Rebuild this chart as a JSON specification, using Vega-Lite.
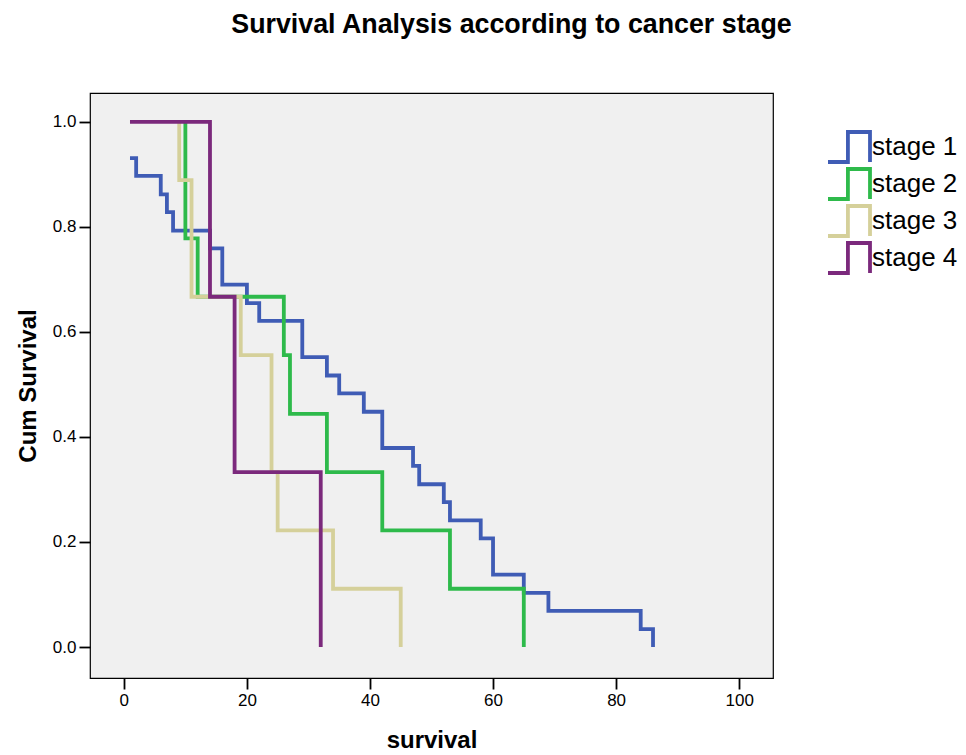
{
  "$schema": "https://vega.github.io/schema/vega-lite/v6.json",
  "autosize": "none",
  "width": 683,
  "height": 585,
  "padding": {"left": 90, "top": 93, "right": 193, "bottom": 77},
  "background": "white",
  "title": {
    "text": "Survival Analysis according to cancer stage",
    "font": "Liberation Sans",
    "fontSize": 26.8,
    "fontWeight": "bold",
    "color": "black",
    "anchor": "middle",
    "dx": 80,
    "offset": 54
  },
  "config": {
    "view": {"fill": "#F0F0F0", "stroke": "black", "strokeWidth": 1.2},
    "axis": {
      "grid": false,
      "domain": false,
      "tickColor": "black",
      "tickSize": 11,
      "tickWidth": 1.8,
      "labelFont": "Liberation Sans",
      "labelFontSize": 17,
      "labelColor": "black",
      "titleFont": "Liberation Sans",
      "titleFontSize": 24,
      "titleFontWeight": "bold",
      "titleColor": "black"
    }
  },
  "data": {
    "values": [
      {"stage": "stage 1", "i": 0, "t": 1, "s": 0.931},
      {"stage": "stage 1", "i": 1, "t": 2, "s": 0.897},
      {"stage": "stage 1", "i": 2, "t": 6, "s": 0.862},
      {"stage": "stage 1", "i": 3, "t": 7, "s": 0.828},
      {"stage": "stage 1", "i": 4, "t": 8, "s": 0.793},
      {"stage": "stage 1", "i": 5, "t": 14, "s": 0.759},
      {"stage": "stage 1", "i": 6, "t": 16, "s": 0.69},
      {"stage": "stage 1", "i": 7, "t": 20, "s": 0.655},
      {"stage": "stage 1", "i": 8, "t": 22, "s": 0.621},
      {"stage": "stage 1", "i": 9, "t": 29, "s": 0.552},
      {"stage": "stage 1", "i": 10, "t": 33, "s": 0.517},
      {"stage": "stage 1", "i": 11, "t": 35, "s": 0.483},
      {"stage": "stage 1", "i": 12, "t": 39, "s": 0.448},
      {"stage": "stage 1", "i": 13, "t": 42, "s": 0.379},
      {"stage": "stage 1", "i": 14, "t": 47, "s": 0.345},
      {"stage": "stage 1", "i": 15, "t": 48, "s": 0.31},
      {"stage": "stage 1", "i": 16, "t": 52, "s": 0.276},
      {"stage": "stage 1", "i": 17, "t": 53, "s": 0.241},
      {"stage": "stage 1", "i": 18, "t": 58, "s": 0.207},
      {"stage": "stage 1", "i": 19, "t": 60, "s": 0.138},
      {"stage": "stage 1", "i": 20, "t": 65, "s": 0.103},
      {"stage": "stage 1", "i": 21, "t": 69, "s": 0.069},
      {"stage": "stage 1", "i": 22, "t": 84, "s": 0.034},
      {"stage": "stage 1", "i": 23, "t": 86, "s": 0.0},
      {"stage": "stage 2", "i": 0, "t": 10, "s": 1.0},
      {"stage": "stage 2", "i": 1, "t": 10, "s": 0.778},
      {"stage": "stage 2", "i": 2, "t": 12, "s": 0.667},
      {"stage": "stage 2", "i": 3, "t": 26, "s": 0.556},
      {"stage": "stage 2", "i": 4, "t": 27, "s": 0.444},
      {"stage": "stage 2", "i": 5, "t": 33, "s": 0.333},
      {"stage": "stage 2", "i": 6, "t": 42, "s": 0.222},
      {"stage": "stage 2", "i": 7, "t": 53, "s": 0.111},
      {"stage": "stage 2", "i": 8, "t": 65, "s": 0.0},
      {"stage": "stage 3", "i": 0, "t": 9, "s": 1.0},
      {"stage": "stage 3", "i": 1, "t": 9, "s": 0.889},
      {"stage": "stage 3", "i": 2, "t": 11, "s": 0.667},
      {"stage": "stage 3", "i": 3, "t": 19, "s": 0.556},
      {"stage": "stage 3", "i": 4, "t": 24, "s": 0.333},
      {"stage": "stage 3", "i": 5, "t": 25, "s": 0.222},
      {"stage": "stage 3", "i": 6, "t": 34, "s": 0.111},
      {"stage": "stage 3", "i": 7, "t": 45, "s": 0.0},
      {"stage": "stage 4", "i": 0, "t": 1, "s": 1.0},
      {"stage": "stage 4", "i": 1, "t": 14, "s": 0.667},
      {"stage": "stage 4", "i": 2, "t": 18, "s": 0.333},
      {"stage": "stage 4", "i": 3, "t": 32, "s": 0.0}
    ]
  },
  "mark": {"type": "line", "interpolate": "step-after", "strokeWidth": 3.8, "strokeCap": "butt", "strokeJoin": "miter"},
  "encoding": {
    "x": {
      "field": "t",
      "type": "quantitative",
      "title": "survival",
      "scale": {"domain": [-5.5, 105.5], "nice": false, "zero": false},
      "axis": {"values": [0, 20, 40, 60, 80, 100], "titlePadding": 20, "labelPadding": 3}
    },
    "y": {
      "field": "s",
      "type": "quantitative",
      "title": "Cum Survival",
      "scale": {"domain": [-0.059, 1.055], "nice": false, "zero": false},
      "axis": {"values": [0, 0.2, 0.4, 0.6, 0.8, 1.0], "format": ".1f", "titlePadding": 12, "labelPadding": 3}
    },
    "order": {"field": "i", "type": "quantitative"},
    "color": {
      "field": "stage",
      "type": "nominal",
      "title": null,
      "scale": {
        "domain": ["stage 1", "stage 2", "stage 3", "stage 4"],
        "range": ["#3F5CB5", "#2EBA4B", "#D5D09A", "#7B297C"]
      },
      "legend": {
        "orient": "none",
        "legendX": 751,
        "legendY": 40,
        "symbolType": "M-2.25,1.25 L-0.59,1.25 L-0.59,-1.25 L1.25,-1.25 L1.25,1.25",
        "symbolSize": 576,
        "symbolStrokeWidth": 3.8,
        "symbolFillColor": "transparent",
        "labelFont": "Liberation Sans",
        "labelFontSize": 26,
        "labelColor": "black",
        "labelOffset": 3,
        "rowPadding": -9.5
      }
    }
  }
}
